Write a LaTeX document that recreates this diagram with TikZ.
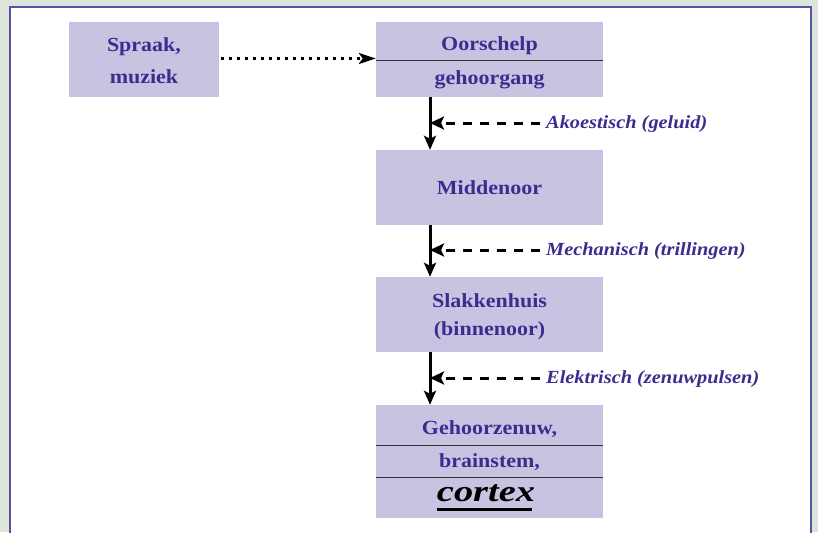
\documentclass[tikz,border=0pt]{standalone}
\usepackage{fontspec}
\setmainfont[FakeStretch=1.1]{Liberation Serif}
\newfontfamily\cortexfont[FakeStretch=1.28]{Liberation Serif}
\usetikzlibrary{arrows.meta,calc}
\definecolor{bggreen}{HTML}{DCE5DA}
\definecolor{boxfill}{HTML}{C9C3E2}
\definecolor{txt}{HTML}{3A2D8F}
\definecolor{frame}{HTML}{5A50A8}
\tikzset{
  blk/.style={fill=boxfill, draw=none, minimum width=227pt, minimum height=75pt, inner sep=0pt, font=\bfseries\fontsize{20}{30}\selectfont, text=txt, align=center},
  tline/.style={inner sep=0pt, font=\bfseries\fontsize{20}{24}\selectfont, text=txt},
  lbl/.style={anchor=west, inner sep=0pt, font=\bfseries\itshape\fontsize{18.5}{22}\selectfont, text=txt},
  flow/.style={draw=black, line width=3pt, -{Stealth[length=14pt,width=12pt,inset=3pt]}},
  sig/.style={draw=black, line width=3pt, dash pattern=on 9pt off 8pt, -{Stealth[length=14pt,width=13pt,inset=3pt]}},
  sep/.style={draw=black!80, line width=1pt}
}
\begin{document}
\begin{tikzpicture}[x=1pt,y=-1pt]
\useasboundingbox (0,0) rectangle (818,532);
\fill[bggreen] (0,0) rectangle (818,532);
\fill[white] (10,7) rectangle (811,540);
\draw[frame, line width=2pt] (10,540) -- (10,7) -- (811,7) -- (811,540);

\node[blk, minimum width=150pt] (src) at (144,59.5) {};
\node[tline] (srcA) at (144,47) {Spraak,};
\node[tline] (srcB) at (144,77) {muziek};
\node[blk] (ear) at (489.5,59.5) {};
\node[tline] (earA) at (489.5,46) {Oorschelp};
\node[tline] (earB) at (489.5,80) {gehoorgang};
\draw[sep] (ear.west |- 0,61) -- (ear.east |- 0,61);

\node[blk] (mid) at (489.5,187.5) {Middenoor};
\node[blk] (coch) at (489.5,314.5) {};
\node[tline] (cochA) at (489.5,301) {Slakkenhuis};
\node[tline] (cochB) at (489.5,331) {(binnenoor)};
\node[blk, minimum height=113pt] (nerve) at (489.5,461.5) {};
\node[tline] (nA) at (489.5,429) {Gehoorzenuw,};
\node[tline] (nB) at (489.5,462) {brainstem,};
\node[inner sep=0pt, anchor=base, font=\cortexfont\bfseries\itshape\fontsize{30}{32}\selectfont, text=black] (nC) at (486,501) {cortex};
\draw[black, line width=3pt] ($(nC.base west)+(0,8)$) coordinate (u1) -- ($(nC.base east)+(-3,8)$) coordinate (u2);
\draw[sep] (nerve.west |- 0,445) -- (nerve.east |- 0,445);
\draw[sep] (nerve.west |- 0,477) -- (nerve.east |- 0,477);

\draw[black, line width=2.5pt, dash pattern=on 2.5pt off 5.5pt, -{Stealth[length=17pt,width=11pt,inset=4pt]}] ($(src.east)+(2,-1)$) -- ($(ear.west)+(0,-1)$);

\coordinate (x1) at (430,0);
\draw[flow] (ear.south -| x1) -- (mid.north -| x1);
\draw[flow] (mid.south -| x1) -- (coch.north -| x1);
\draw[flow] (coch.south -| x1) -- (nerve.north -| x1);

\node[lbl] (l1) at (546,124) {Akoestisch (geluid)};
\node[lbl] (l2) at (546,251) {Mechanisch (trillingen)};
\node[lbl] (l3) at (546,379) {Elektrisch (zenuwpulsen)};
\draw[sig] ($(l1.west)+(-6,-1)$) -- ($(l1.west -| 430,0)+(0,-1)$);
\draw[sig] ($(l2.west)+(-6,-1)$) -- ($(l2.west -| 430,0)+(0,-1)$);
\draw[sig] ($(l3.west)+(-6,-1)$) -- ($(l3.west -| 430,0)+(0,-1)$);
\end{tikzpicture}
\end{document}
